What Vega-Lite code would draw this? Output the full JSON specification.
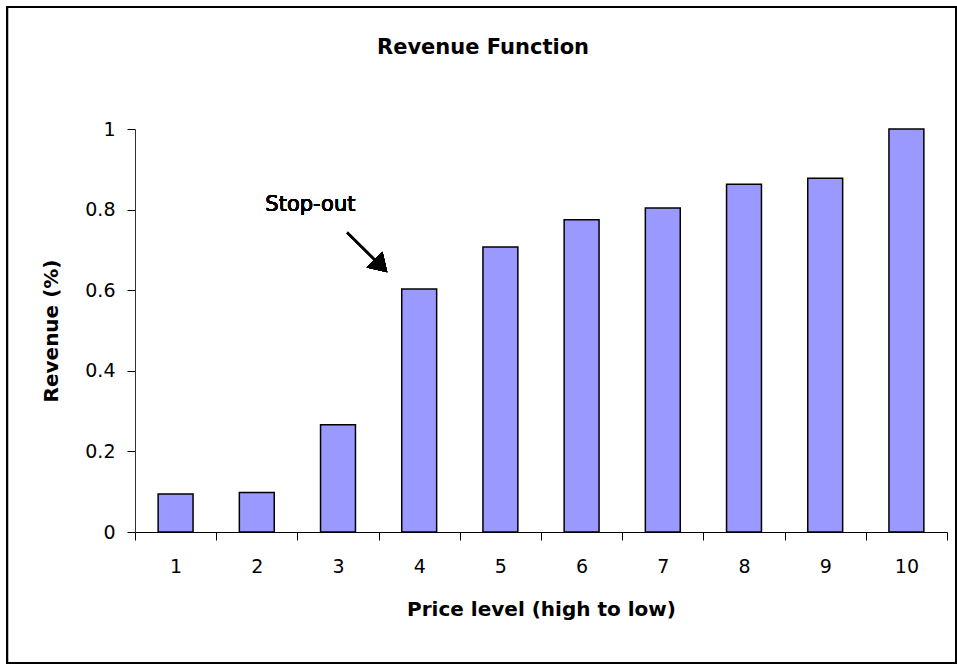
{
  "$schema": "https://vega.github.io/schema/vega-lite/v6.json",
  "width": 812,
  "height": 403,
  "autosize": {"type": "none"},
  "padding": {"left": 135, "top": 129, "right": 10, "bottom": 133},
  "background": "white",
  "title": {
    "text": "Revenue Function",
    "font": "DejaVu Sans",
    "fontSize": 21,
    "fontWeight": "bold",
    "anchor": "middle",
    "frame": "group",
    "dx": -58,
    "offset": -52,
    "color": "black"
  },
  "config": {
    "font": "DejaVu Sans",
    "view": {"stroke": null}
  },
  "data": {
    "values": [
      {"level": 1, "revenue": 0.094},
      {"level": 2, "revenue": 0.098},
      {"level": 3, "revenue": 0.266},
      {"level": 4, "revenue": 0.603},
      {"level": 5, "revenue": 0.707},
      {"level": 6, "revenue": 0.775},
      {"level": 7, "revenue": 0.804},
      {"level": 8, "revenue": 0.863},
      {"level": 9, "revenue": 0.878},
      {"level": 10, "revenue": 1.0}
    ]
  },
  "resolve": {"scale": {"x": "independent"}, "axis": {"x": "independent"}},
  "layer": [
    {
      "mark": {"type": "bar", "fill": "#9999FF", "stroke": "black", "strokeWidth": 1.5, "width": {"band": 0.43}},
      "encoding": {
        "x": {
          "field": "level",
          "type": "ordinal",
          "scale": {"paddingInner": 0, "paddingOuter": 0},
          "axis": {
            "title": "Price level (high to low)",
            "labelAngle": 0,
            "tickBand": "extent",
            "tickSize": 8,
            "labelPadding": 17,
            "labelFontSize": 19,
            "labelColor": "black",
            "titleFontSize": 20,
            "titleFontWeight": "bold",
            "titleColor": "black",
            "titlePadding": 23,
            "domainColor": "black",
            "tickColor": "black"
          }
        },
        "y": {
          "field": "revenue",
          "type": "quantitative",
          "scale": {"domain": [0, 1], "nice": false},
          "axis": {
            "title": "Revenue (%)",
            "values": [0, 0.2, 0.4, 0.6, 0.8, 1],
            "format": "~g",
            "grid": false,
            "tickSize": 8,
            "labelPadding": 12,
            "labelFontSize": 19,
            "labelColor": "black",
            "titleFontSize": 20,
            "titleFontWeight": "bold",
            "titleColor": "black",
            "titlePadding": 23,
            "domainColor": "#333333",
            "tickColor": "black"
          }
        }
      }
    },
    {
      "mark": {"type": "rect", "fill": null, "stroke": "black", "strokeWidth": 2},
      "encoding": {
        "x": {"datum": -1.076, "type": "quantitative", "scale": {"domain": [0.5, 10.5]}, "axis": null},
        "x2": {"datum": 10.611},
        "y": {"datum": 1.3027, "type": "quantitative"},
        "y2": {"datum": -0.325}
      }
    },
    {
      "mark": {"type": "rule", "stroke": "black", "strokeWidth": 2},
      "encoding": {
        "x": {"datum": 3.114, "type": "quantitative", "scale": {"domain": [0.5, 10.5]}, "axis": null},
        "x2": {"datum": 3.48},
        "y": {"datum": 0.743, "type": "quantitative"},
        "y2": {"datum": 0.670}
      }
    },
    {
      "mark": {"type": "point", "shape": "M0,-1L1,0.6L-1,0.6Z", "filled": true, "fill": "black", "stroke": null, "size": 506, "angle": 135, "opacity": 1},
      "encoding": {
        "x": {"datum": 3.509, "type": "quantitative", "scale": {"domain": [0.5, 10.5]}, "axis": null},
        "y": {"datum": 0.664, "type": "quantitative"}
      }
    },
    {
      "mark": {"type": "text", "text": "Stop-out", "font": "DejaVu Sans", "fontSize": 21, "fontWeight": "normal", "align": "center", "baseline": "alphabetic", "color": "black"},
      "encoding": {
        "x": {"datum": 2.66, "type": "quantitative", "scale": {"domain": [0.5, 10.5]}, "axis": null},
        "y": {"datum": 0.797, "type": "quantitative"}
      }
    }
  ]
}
